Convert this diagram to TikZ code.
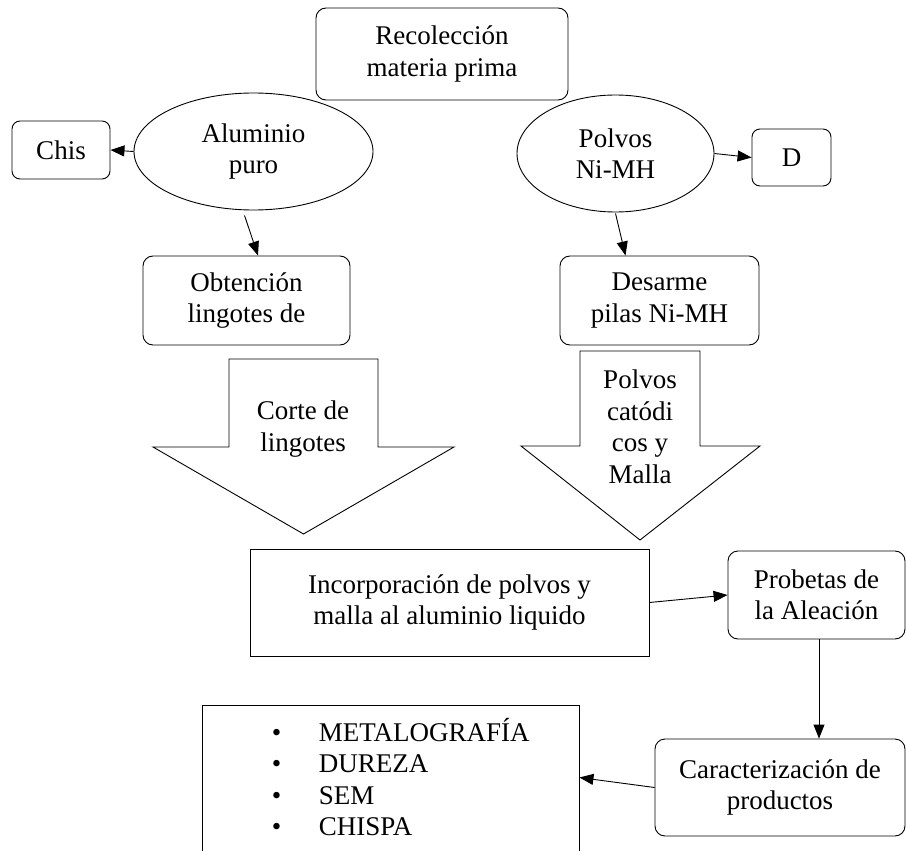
\documentclass[tikz,border=0pt]{standalone}
\usepackage{fontspec}
\setmainfont{Liberation Serif}
\usetikzlibrary{shapes.geometric,arrows.meta}

\tikzset{
  roundbox/.style={draw, rounded corners=10pt, align=center, inner sep=0pt},
  plainbox/.style={draw, align=center, inner sep=0pt},
  oval/.style={draw, ellipse, align=center, inner sep=0pt},
  arr/.style={-{Triangle[length=14pt,width=11pt]}},
}

\begin{document}
\begin{tikzpicture}[x=1pt, y=-1pt, line width=0.9pt,
    font=\fontsize{27}{31.5}\selectfont]
  \useasboundingbox (0,0) rectangle (906,851);

  \node[roundbox, minimum width=252pt, minimum height=92pt] (rec) at (442,54) {Recolección\\materia prima};
  \node[oval, minimum width=239pt, minimum height=117pt] (alu) at (253.5,151.5) {Aluminio\\puro};
  \node[roundbox, rounded corners=8pt, minimum width=98pt, minimum height=58pt] (chis) at (61,150) {Chis};
  \node[oval, minimum width=197pt, minimum height=117pt] (pol) at (615.5,153.5) {Polvos\\Ni-MH};
  \node[roundbox, rounded corners=8pt, minimum width=79pt, minimum height=57pt] (d) at (791.5,157.5) {D};
  \node[roundbox, minimum width=207pt, minimum height=89pt] (obt) at (246.5,300.5) {Obtención\\lingotes de};
  \node[roundbox, minimum width=199pt, minimum height=89pt] (des) at (659.5,300.5) {Desarme\\pilas Ni-MH};

  % block arrows
  \draw (229,359) -- (378,359) -- (378,447) -- (454,447) -- (303.5,534) -- (153,447) -- (229,447) -- cycle;
  \node[align=center] (corte) at (303,429) {Corte de\\lingotes};
  \draw (580,351) -- (700,351) -- (700,446) -- (760,446) -- (640,540) -- (521,446) -- (580,446) -- cycle;
  \node[align=center] (catod) at (640,427) {Polvos\\catódi\\cos y\\Malla};

  \node[plainbox, minimum width=399pt, minimum height=107pt] (inc) at (449.5,602.5) {Incorporación de polvos y\\malla al aluminio liquido};
  \node[roundbox, minimum width=177pt, minimum height=88pt] (prob) at (816.5,595) {Probetas de\\la Aleación};
  \node[roundbox, minimum width=250pt, minimum height=97pt] (car) at (780,787.5) {Caracterización de\\productos};
  \node[plainbox, minimum width=377pt, minimum height=165pt] (lst) at (390.5,787.5) {};
  \node[anchor=west, align=left] (items) at (268,777) {%
    \makebox[47pt][l]{\textbullet}METALOGRAFÍA\\
    \makebox[47pt][l]{\textbullet}DUREZA\\
    \makebox[47pt][l]{\textbullet}SEM\\
    \makebox[47pt][l]{\textbullet}CHISPA};

  \draw[arr] (alu.west) -- (chis.east);
  \draw[arr] (pol.east) -- (d.west);
  \draw[arr] ([xshift=-9pt,yshift=-5pt]alu.south) -- ([xshift=11.5pt]obt.north);
  \draw[arr] ([yshift=-1pt]pol.south) -- ([xshift=-34pt]des.north);
  \draw[arr] (inc.east) -- (prob.west);
  \draw[arr] ([xshift=2.5pt]prob.south) -- ([xshift=2.5pt]prob.south |- car.north);
  \draw[arr] (car.west) -- ([yshift=10pt]lst.east);

\end{tikzpicture}
\end{document}
